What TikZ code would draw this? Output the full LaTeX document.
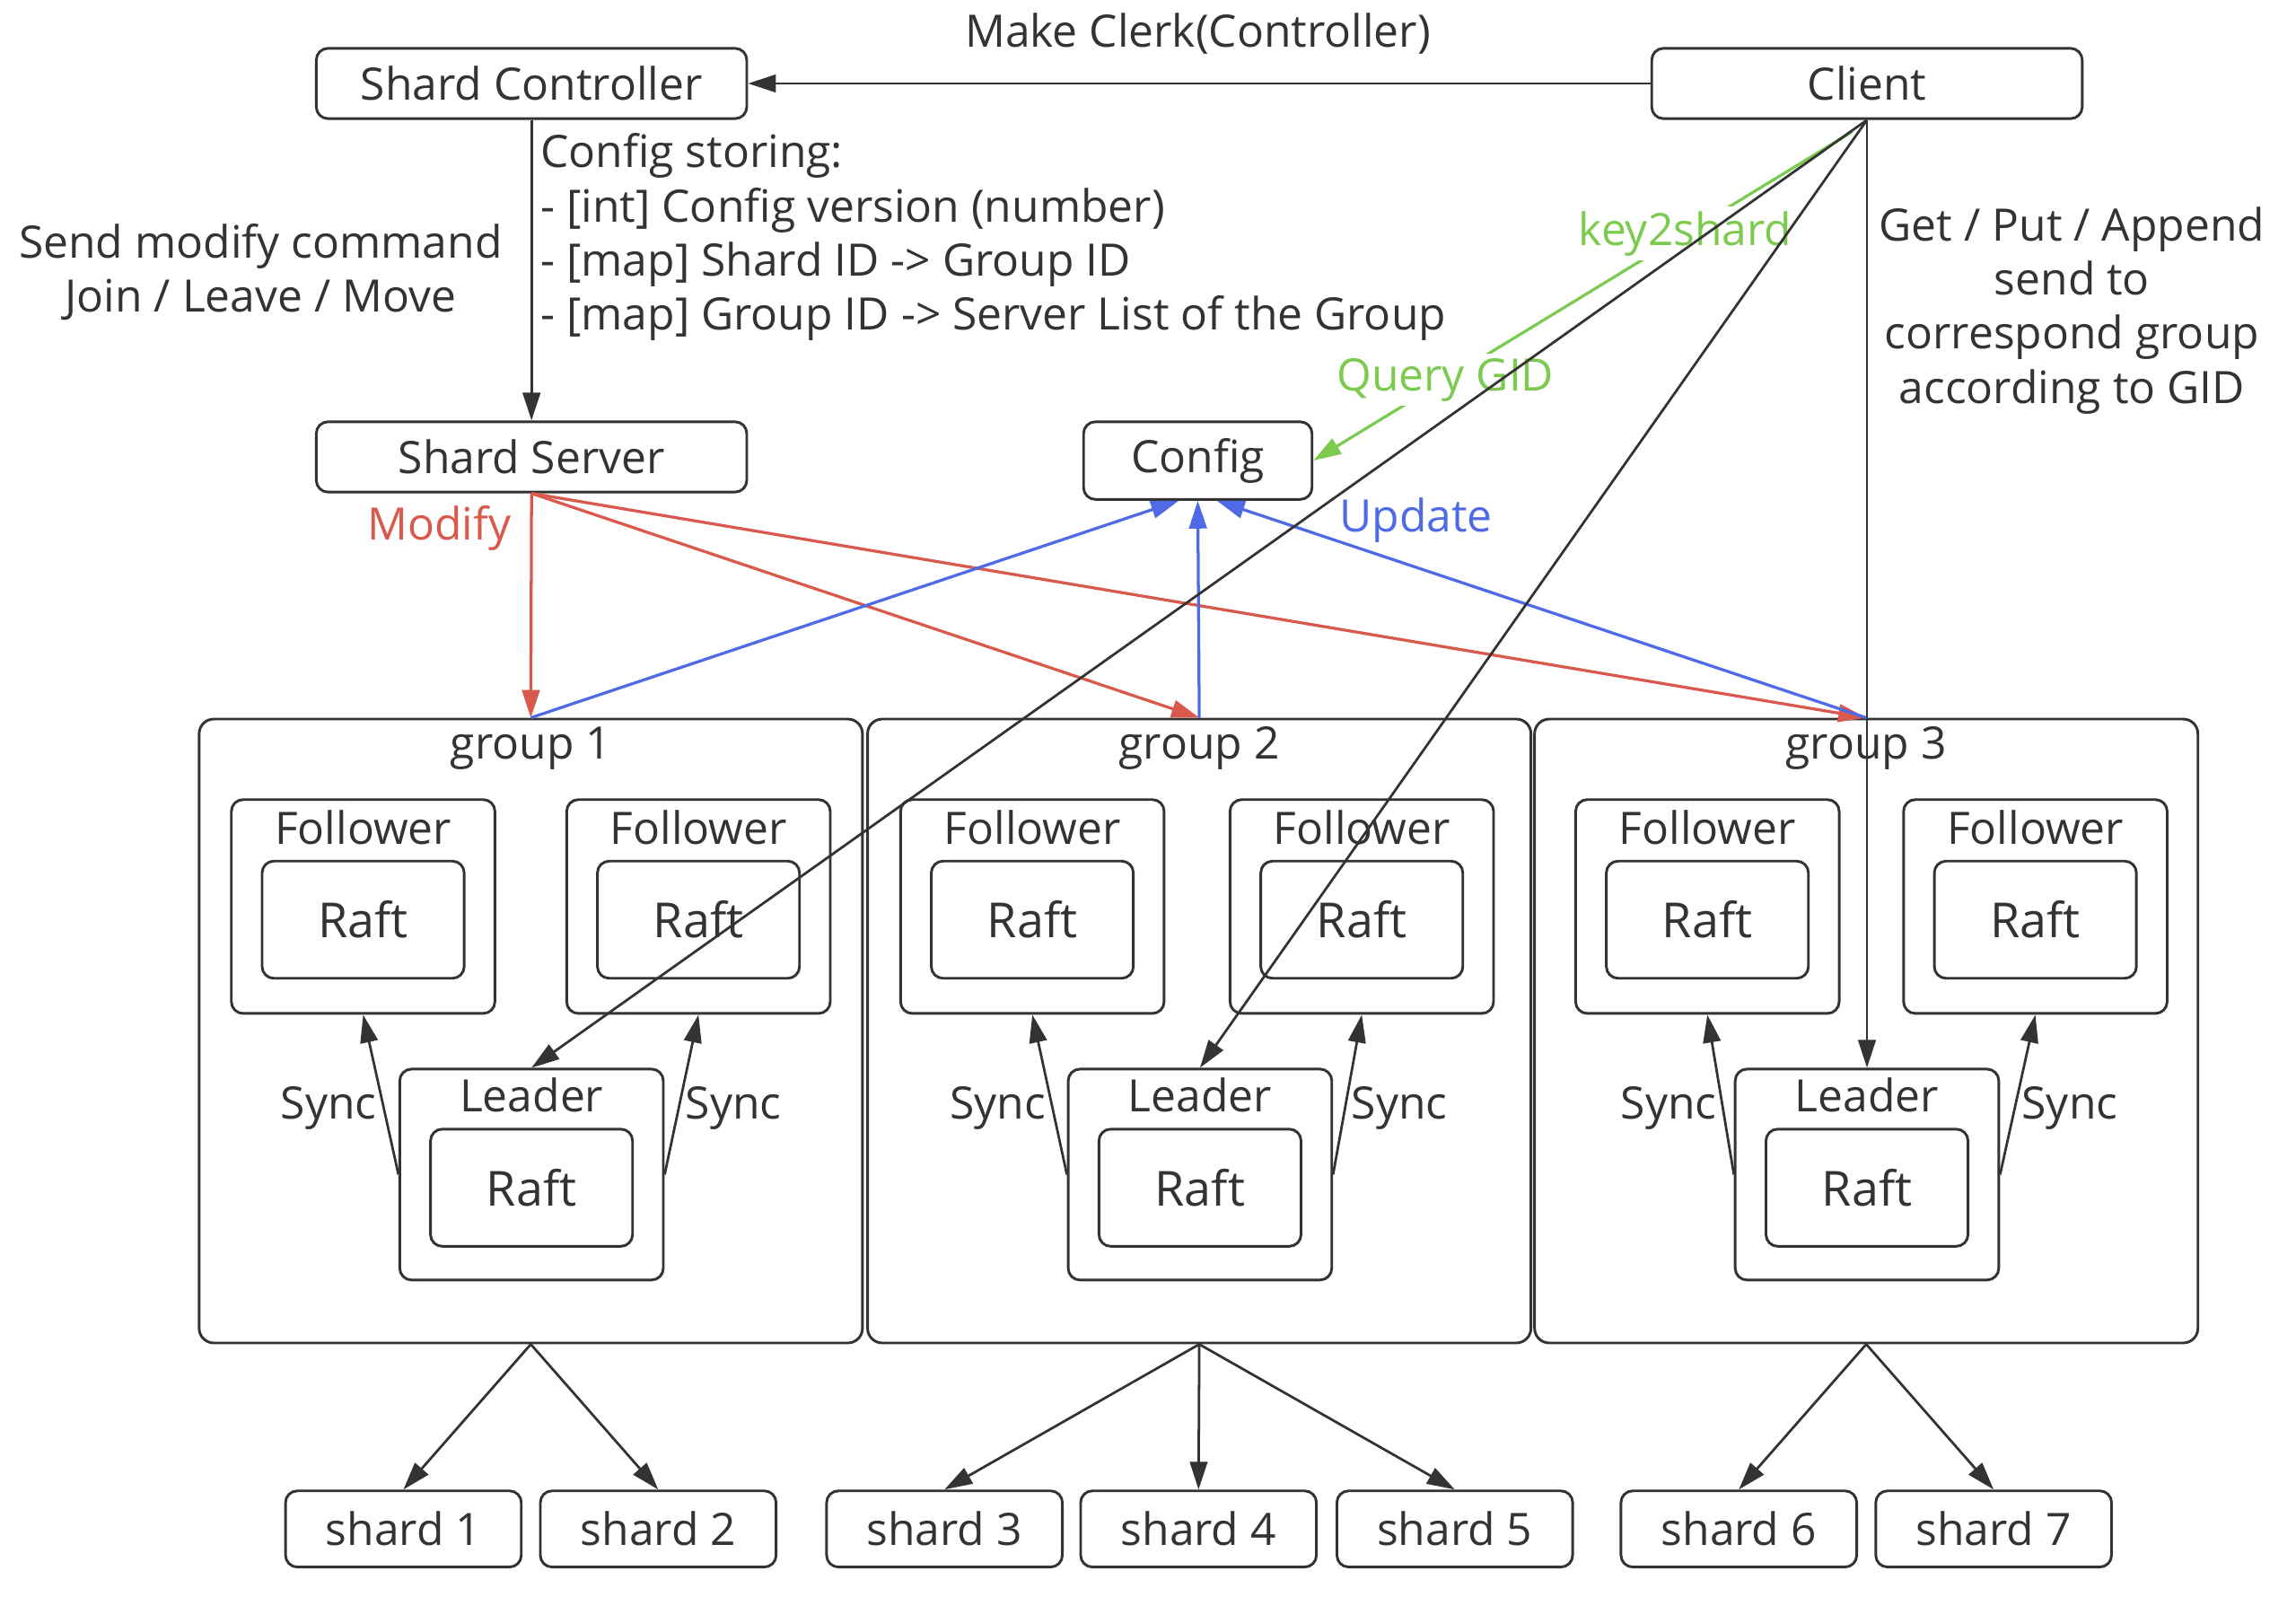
\documentclass[tikz,border=0pt]{standalone}
\usepackage{fontspec}
\setmainfont{Open Sans}
\usetikzlibrary{arrows.meta,calc}
\definecolor{ink}{HTML}{333333}
\definecolor{myred}{HTML}{D9594C}
\definecolor{myblue}{HTML}{4F6AE6}
\definecolor{mygreen}{HTML}{7CCB50}
\begin{document}
\begin{tikzpicture}[x=1pt,y=-1pt,color=ink,
  font=\fontsize{30.5}{37}\selectfont,
  box/.style={draw=ink, line width=1.8pt, rounded corners=8pt, inner sep=0pt, fill=white},
  gbox/.style={draw=ink, line width=1.8pt, rounded corners=10pt, inner sep=0pt, fill=white},
  lbl/.style={inner sep=2pt},
  raft/.style={box, minimum width=138, minimum height=80, font=\fontsize{33}{37}\selectfont},
  member/.style={box, minimum width=180},
  shardbox/.style={box, minimum width=161, minimum height=52},
  arr/.style={-{Triangle[length=19pt,width=12pt]}, line width=1.7pt, draw=ink},
  rarr/.style={arr, line width=2pt, draw=myred, -{Triangle[length=19pt,width=12pt,fill=myred]}},
  barr/.style={arr, line width=2pt, draw=myblue, -{Triangle[length=19pt,width=12pt,fill=myblue]}},
  garr/.style={arr, line width=2pt, draw=mygreen, -{Triangle[length=19pt,width=12pt,fill=mygreen]}},
]
\useasboundingbox (0,0) rectangle (1568,1090);

% top nodes
\node[box, minimum width=294, minimum height=48] (sc) at (363,57) {Shard Controller};
\node[box, minimum width=294, minimum height=48] (client) at (1275,57) {Client};
\node[box, minimum width=294, minimum height=48] (ss) at (363,312) {Shard Server};
\node[box, minimum width=156, minimum height=53] (cfg) at (818,314.5) {Config};

% groups
\foreach \i/\gx/\lx/\rx in {1/362.5/248/477, 2/819/705/930, 3/1274.5/1166/1390}{
  \node[gbox, minimum width=453, minimum height=426] (g\i) at (\gx,704) {};
  \node[lbl] (gt\i) at (\gx,511) {group \i};
  \node[member, minimum height=146] (fl\i) at (\lx,619) {};
  \node[lbl] (flt\i) at (\lx,565) {Follower};
  \node[raft] (flr\i) at (\lx,628) {Raft};
  \node[member, minimum height=146] (fr\i) at (\rx,619) {};
  \node[lbl] (frt\i) at (\rx,565) {Follower};
  \node[raft] (frr\i) at (\rx,628) {Raft};
  \node[member, minimum height=144] (ld\i) at (\gx+0.5,802) {};
  \node[lbl] (ldt\i) at (\gx+0.5,748) {Leader};
  \node[raft] (ldr\i) at (\gx+0.5,811) {Raft};
  \draw[arr] (ld\i.west) -- (fl\i.south) node[midway, left, lbl, inner sep=2pt, yshift=-9pt] (sl\i) {Sync};
  \draw[arr] (ld\i.east) -- (fr\i.south) node[midway, right, lbl, inner sep=2pt, yshift=-9pt] (sr\i) {Sync};
}

% shards
\node[shardbox] (s1) at (275.5,1044) {shard 1};
\node[shardbox] (s2) at (449.5,1044) {shard 2};
\node[shardbox] (s3) at (645,1044) {shard 3};
\node[shardbox] (s4) at (818.5,1044) {shard 4};
\node[shardbox] (s5) at (993.5,1044) {shard 5};
\node[shardbox] (s6) at (1187.5,1044) {shard 6};
\node[shardbox] (s7) at (1361.5,1044) {shard 7};
\draw[arr] (g1.south) -- (s1.north);
\draw[arr] (g1.south) -- (s2.north);
\draw[arr] (g2.south) -- (s3.north);
\draw[arr] (g2.south) -- (s4.north);
\draw[arr] (g2.south) -- (s5.north);
\draw[arr] (g3.south) -- (s6.north);
\draw[arr] (g3.south) -- (s7.north);

% controller / client
\draw[arr] (client.west) -- (sc.east);
\node[lbl] (mk) at (818,23) {Make Clerk(Controller)};
\draw[arr] (sc.south) -- (ss.north);
\node[lbl, anchor=north west, align=left, inner sep=0pt] (cfgtxt) at (369,91)
  {Config storing:\\- [int] Config version (number)\\- [map] Shard ID -> Group ID\\- [map] Group ID -> Server List of the Group};
\node[lbl, align=center] (smc) at (178,186) {Send modify command\\Join / Leave / Move};

% red modify
\draw[rarr] (ss.south) -- (g1.north);
\draw[rarr] (ss.south) -- (g2.north);
\draw[rarr] (ss.south) -- (g3.north);
\node[lbl, text=myred] (mod) at (300,361) {Modify};

% blue update
\draw[barr] (g1.north) -- ($(cfg.south)+(-13,0)$);
\draw[barr] (g2.north) -- (cfg.south);
\draw[barr] (g3.north) -- ($(cfg.south)+(13,0)$);
\node[lbl, text=myblue] (upd) at (967,355) {Update};

% green query
\draw[garr] ($(client.south)+(-10,8)$) -- (cfg.east)
  node[pos=0.31, fill=white, inner sep=3pt, text=mygreen] (k2s) {key2shard}
  node[pos=0.755, fill=white, inner sep=3pt, text=mygreen] (qg) {Query GID};

% client to leaders
\draw[arr] (client.south) -- (ld1.north);
\draw[arr] (client.south) -- (ld2.north);
\draw[arr] (client.south) -- (ld3.north);
\node[lbl, align=center] (gpa) at (1415,212) {Get / Put / Append\\send to\\correspond group\\according to GID};
\end{tikzpicture}
\end{document}
